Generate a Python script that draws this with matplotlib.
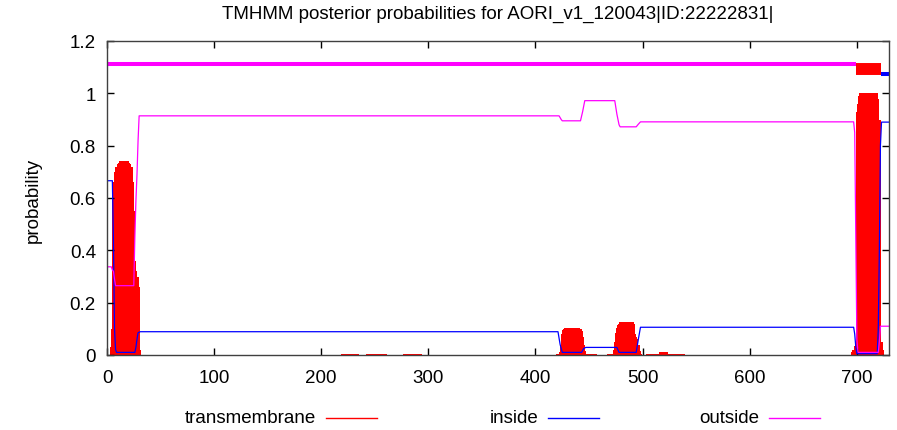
import numpy as np
import matplotlib.pyplot as plt
from matplotlib.lines import Line2D

plt.rcParams['font.family'] = ['Liberation Sans', 'DejaVu Sans']

title = 'TMHMM posterior probabilities for AORI_v1_120043|ID:22222831|'
seq_len = 730

# predicted topology (strip along the top)
region_labels = ['outside', 'TMhelix', 'inside']
region_start = [1, 700, 723]
region_end = [699, 722, 730]

# inside probability, knots along the sequence
inside_pos = [1, 5, 6, 7, 8, 9, 26, 27, 28, 29, 31,
              421, 423, 425, 443, 445, 447, 476, 478, 494, 496, 498,
              697, 698, 699, 700, 719, 720, 721, 722, 723, 730]
inside_prob = [0.666, 0.666, 0.44, 0.1, 0.02, 0.01, 0.01, 0.03, 0.06, 0.085, 0.089,
               0.089, 0.04, 0.01, 0.01, 0.025, 0.029, 0.029, 0.01, 0.01, 0.06, 0.106,
               0.106, 0.08, 0.03, 0.005, 0.005, 0.1, 0.4, 0.8, 0.89, 0.89]

# outside probability
outside_pos = [1, 4, 5, 6, 7, 8, 25, 26, 27, 28, 29, 30,
               422, 424, 425, 442, 444, 446, 474, 476, 478, 479, 494, 496, 498,
               697, 698, 699, 700, 701, 720, 721, 722, 730]
outside_prob = [0.337, 0.337, 0.325, 0.32, 0.29, 0.265, 0.265, 0.45, 0.59, 0.69, 0.82, 0.914,
                0.914, 0.9, 0.895, 0.895, 0.93, 0.972, 0.972, 0.92, 0.88, 0.872, 0.872, 0.882, 0.891,
                0.891, 0.85, 0.45, 0.06, 0.01, 0.01, 0.05, 0.11, 0.11]

# transmembrane probability, residue by residue, in blocks where it is non-zero
tm_start = [4, 220, 243, 277, 420, 468, 504, 696]
tm_vals = [
    [0.03, 0.1, 0.6, 0.66, 0.7, 0.72, 0.73, 0.735, 0.74, 0.74, 0.74, 0.74, 0.74, 0.74, 0.74, 0.74,
     0.735, 0.73, 0.72, 0.72, 0.66, 0.55, 0.36, 0.32, 0.3, 0.3, 0.26, 0.02],
    [0.005, 0.005, 0.005, 0.005, 0.005, 0.005, 0.005, 0.005, 0.005, 0.005, 0.005, 0.005, 0.005, 0.005,
     0.005],
    [0.005, 0.005, 0.005, 0.005, 0.005, 0.005, 0.005, 0.005, 0.005, 0.005, 0.005, 0.005, 0.005, 0.005,
     0.005, 0.005, 0.005, 0.005],
    [0.005, 0.005, 0.005, 0.005, 0.005, 0.005, 0.005, 0.005, 0.005, 0.005, 0.005, 0.005, 0.005, 0.005,
     0.005, 0.005, 0.005],
    [0.004, 0.004, 0.005, 0.01, 0.04, 0.08, 0.095, 0.1, 0.102, 0.102, 0.102, 0.102, 0.102, 0.102, 0.102,
     0.102, 0.102, 0.102, 0.102, 0.102, 0.102, 0.1, 0.098, 0.09, 0.07, 0.04, 0.015, 0.004, 0.004, 0.004,
     0.004, 0.004, 0.004, 0.004, 0.004, 0.004, 0.004],
    [0.004, 0.004, 0.004, 0.004, 0.004, 0.02, 0.05, 0.085, 0.105, 0.115, 0.12, 0.125, 0.125, 0.125, 0.125,
     0.125, 0.125, 0.125, 0.125, 0.125, 0.125, 0.125, 0.125, 0.125, 0.12, 0.08, 0.07, 0.06, 0.04, 0.015,
     0.004],
    [0.005, 0.005, 0.005, 0.005, 0.005, 0.005, 0.005, 0.005, 0.005, 0.005, 0.005, 0.005, 0.012, 0.012,
     0.012, 0.012, 0.012, 0.012, 0.012, 0.012, 0.005, 0.005, 0.005, 0.005, 0.005, 0.005, 0.005, 0.005,
     0.005, 0.005, 0.005, 0.005, 0.005, 0.005, 0.005],
    [0.01, 0.02, 0.035, 0.05, 0.93, 0.96, 0.99, 1.0, 1.0, 1.0, 1.0, 1.0, 1.0, 1.0, 1.0, 1.0, 1.0, 1.0,
     1.0, 1.0, 1.0, 1.0, 1.0, 1.0, 0.98, 0.9, 0.05, 0.05, 0.02],
]

legend_labels = ['transmembrane', 'inside', 'outside']
colors = {'transmembrane': 'red', 'inside': 'blue', 'outside': 'magenta'}

tm_pos, tm_prob = [], []
for s, vals in zip(tm_start, tm_vals):
    tm_pos += [s + i for i in range(len(vals))]
    tm_prob += vals

W, H = 897, 431
fig = plt.figure(figsize=(W / 100, H / 100), dpi=100)
ax = fig.add_axes([107 / W, 75 / H, 782 / W, 314 / H])

# TM posterior as thick impulses (overlapping bars), then the two state curves on top
ax.bar(tm_pos, tm_prob, width=2.2, color=colors['transmembrane'], linewidth=0,
       antialiased=False)
ax.plot(inside_pos, inside_prob, color=colors['inside'], lw=0.9)
ax.plot(outside_pos, outside_prob, color=colors['outside'], lw=0.9)

# topology strip
strip = {'outside': (1.113, 'magenta', 2.9),
         'TMhelix': (1.093, 'red', 8.6),
         'inside': (1.073, 'blue', 2.9)}
for lab, s, e in zip(region_labels, region_start, region_end):
    y, c, lw = strip[lab]
    ax.hlines(y, s - 0.5, e + 0.5, colors=c, linewidth=lw)

ax.set_xlim(0, seq_len)
ax.set_ylim(0, 1.2)
ax.set_xticks(np.arange(0, 701, 100))
yt = [0, 0.2, 0.4, 0.6, 0.8, 1.0, 1.2]
ax.set_yticks(yt)
ax.set_yticklabels(['0', '0.2', '0.4', '0.6', '0.8', '1', '1.2'])
ax.tick_params(direction='in', length=5, width=1, top=True, right=True,
               labelsize=13.5, colors='black')
ax.tick_params(axis='x', pad=10)
ax.tick_params(axis='y', pad=8)
for sp in ax.spines.values():
    sp.set_color('#404040')
    sp.set_linewidth(1)

fig.text(498 / W, 1 - 14 / H, title, ha='center', va='center', fontsize=13.5)
fig.text(33 / W, 1 - 200 / H, 'probability', rotation=90, ha='center', va='center', fontsize=13.5)

# key below the plot: label right-justified, then a sample line
line_ends = [377, 599, 820]
for lab, xe in zip(legend_labels, line_ends):
    ly = 1 - 419 / H
    fig.add_artist(Line2D([(xe - 51) / W, xe / W], [ly, ly], color=colors[lab], lw=1))
    fig.text((xe - 61) / W, ly, lab, ha='right', va='center', fontsize=13.5)

fig.savefig('out.png', dpi=100)
